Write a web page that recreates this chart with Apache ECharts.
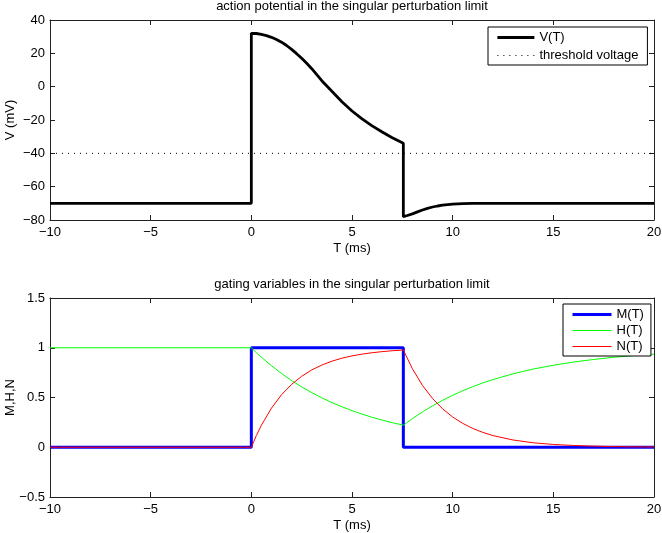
<!DOCTYPE html>
<html>
<head>
<meta charset="utf-8">
<script src="https://cdn.jsdelivr.net/npm/echarts@6/dist/echarts.min.js"></script>
<style>
html,body{margin:0;padding:0;background:#fff;}
#chart{width:662px;height:533px;}
</style>
</head>
<body>
<div id="chart"></div>
<script>
// ---- data ----
const topTitle = 'action potential in the singular perturbation limit';
const bottomTitle = 'gating variables in the singular perturbation limit';
const xTicks = [-10, -5, 0, 5, 10, 15, 20];
const vTicks = [-80, -60, -40, -20, 0, 20, 40];
const gTicks = [-0.5, 0, 0.5, 1, 1.5];

const tV = [-10, 0, 0, 0.25, 0.5, 0.75, 1, 1.25, 1.5, 1.75, 2, 2.25, 2.5, 2.75, 3, 3.5, 4, 4.5, 5, 5.5, 6, 6.5, 7, 7.55, 7.55, 7.75, 8, 8.25, 8.5, 8.75, 9, 9.25, 9.5, 9.75, 10, 10.5, 11, 12, 20];
const vV = [-70, -70, 32, 31.9, 31.4, 30.6, 29.6, 28.3, 26.7, 24.7, 22.4, 19.8, 17.0, 14.0, 10.8, 3.6, -2.8, -9, -14.6, -19.3, -23.5, -27.2, -30.6, -34, -78, -77.3, -76.3, -75.1, -74, -73, -72.2, -71.6, -71.1, -70.8, -70.5, -70.2, -70.05, -70, -70];
const threshT = [-10, 20];
const threshV = [-40, -40];

const tGate = [-10, 0, 0, 0.25, 0.5, 1, 1.5, 2, 2.5, 3, 3.5, 4, 4.5, 5, 5.5, 6, 6.5, 7, 7.55, 7.55, 8, 8.5, 9, 9.5, 10, 10.5, 11, 11.5, 12, 13, 14, 15, 16, 17, 18, 19, 20];
const mVals = [0, 0, 1, 1, 1, 1, 1, 1, 1, 1, 1, 1, 1, 1, 1, 1, 1, 1, 1, 0, 0, 0, 0, 0, 0, 0, 0, 0, 0, 0, 0, 0, 0, 0, 0, 0, 0];
const hVals = [1, 1, 1, 0.95, 0.905, 0.819, 0.741, 0.67, 0.607, 0.549, 0.497, 0.449, 0.407, 0.368, 0.333, 0.301, 0.273, 0.247, 0.222, 0.222, 0.287, 0.355, 0.416, 0.472, 0.522, 0.568, 0.609, 0.647, 0.68, 0.738, 0.786, 0.824, 0.856, 0.882, 0.904, 0.921, 0.935];
const nVals = [0, 0, 0, 0.118, 0.221, 0.393, 0.528, 0.632, 0.713, 0.777, 0.826, 0.865, 0.895, 0.918, 0.936, 0.95, 0.961, 0.97, 0.977, 0.977, 0.789, 0.622, 0.49, 0.386, 0.304, 0.24, 0.189, 0.149, 0.117, 0.073, 0.045, 0.028, 0.018, 0.011, 0.007, 0.004, 0.003];

// ---- chart ----
const FONT = 'Liberation Sans, Arial, Helvetica, sans-serif';
const AX = '#222';
const zip = (a, b) => a.map((v, i) => [v, b[i]]);
const fmt = v => String(v).replace('-', '\u2212');

function xAx(grid, pos, showLabel, name, title) {
  const o = {
    type: 'value', gridIndex: grid, position: pos,
    min: xTicks[0], max: xTicks[xTicks.length - 1], interval: xTicks[1] - xTicks[0],
    axisLine: {show: true, onZero: false, lineStyle: {color: AX, width: 1}},
    axisTick: {show: true, inside: true, length: 5, lineStyle: {color: AX}},
    axisLabel: {show: showLabel, formatter: fmt, margin: 6, color: '#000', fontSize: 13, fontFamily: FONT},
    splitLine: {show: false}
  };
  if (name) {
    o.name = name; o.nameLocation = 'middle'; o.nameGap = 22;
    o.nameTextStyle = {color: '#000', fontSize: 13, fontFamily: FONT};
    o.nameMoveOverlap = false;
  }
  if (title) {
    o.name = title; o.nameLocation = 'middle'; o.nameGap = 7;
    o.nameTextStyle = {color: '#000', fontSize: 13, fontFamily: FONT};
    o.nameMoveOverlap = false;
  }
  return o;
}
function yAx(grid, pos, ticks, showLabel, name) {
  const o = {
    type: 'value', gridIndex: grid, position: pos,
    min: ticks[0], max: ticks[ticks.length - 1], interval: ticks[1] - ticks[0],
    axisLine: {show: true, onZero: false, lineStyle: {color: AX, width: 1}},
    axisTick: {show: true, inside: true, length: 5, lineStyle: {color: AX}},
    axisLabel: {show: showLabel, formatter: fmt, margin: 5, color: '#000', fontSize: 13, fontFamily: FONT},
    splitLine: {show: false}
  };
  if (name) {
    o.name = name; o.nameLocation = 'middle'; o.nameGap = 33; o.nameRotate = 90;
    o.nameTextStyle = {color: '#000', fontSize: 13, fontFamily: FONT};
    o.nameMoveOverlap = false;
  }
  return o;
}

const chart = echarts.init(document.getElementById('chart'), null, {renderer: 'canvas'});
const legendCommon = {
  orient: 'vertical', borderColor: '#000', borderWidth: 1, backgroundColor: '#fff', borderRadius: 0,
  textStyle: {color: '#000', fontSize: 13, fontFamily: FONT},
  lineStyle: {width: 'inherit', type: 'inherit'},
  itemStyle: {opacity: 0}, selectedMode: false
};
chart.setOption({
  animation: false,
  textStyle: {fontFamily: FONT},
  grid: [
    {left: 50, top: 20, width: 604, height: 200, containLabel: false, outerBoundsMode: 'none'},
    {left: 50, top: 298, width: 604, height: 199, containLabel: false, outerBoundsMode: 'none'}
  ],
  xAxis: [
    xAx(0, 'bottom', true, 'T (ms)', null),
    xAx(1, 'bottom', true, 'T (ms)', null),
    xAx(0, 'top', false, null, topTitle),
    xAx(1, 'top', false, null, bottomTitle)
  ],
  yAxis: [
    yAx(0, 'left', vTicks, true, 'V (mV)'),
    yAx(1, 'left', gTicks, true, 'M,H,N'),
    yAx(0, 'right', vTicks, false, null),
    yAx(1, 'right', gTicks, false, null)
  ],
  legend: [
    Object.assign({}, legendCommon, {
      data: ['V(T)', 'threshold voltage'], left: 488, top: 27,
      itemWidth: 37, itemHeight: 13, itemGap: 5, padding: [4, 9, 3, 8]
    }),
    Object.assign({}, legendCommon, {
      data: ['M(T)', 'H(T)', 'N(T)'], left: 563, top: 304,
      itemWidth: 39, itemHeight: 14, itemGap: 3, padding: [4, 7, 3, 8]
    })
  ],
  series: [
    {name: 'V(T)', type: 'line', xAxisIndex: 0, yAxisIndex: 0, data: zip(tV, vV), symbol: 'none',
     lineStyle: {color: '#000', width: 2.8}, itemStyle: {color: '#000'}},
    {name: 'threshold voltage', type: 'line', xAxisIndex: 0, yAxisIndex: 0, data: zip(threshT, threshV), symbol: 'none',
     lineStyle: {color: '#000', width: 1, type: [1, 5]}, itemStyle: {color: '#000'}},
    {name: 'M(T)', type: 'line', xAxisIndex: 1, yAxisIndex: 1, data: zip(tGate, mVals), symbol: 'none',
     lineStyle: {color: '#0000ff', width: 3}, itemStyle: {color: '#0000ff'}},
    {name: 'H(T)', type: 'line', xAxisIndex: 1, yAxisIndex: 1, data: zip(tGate, hVals), symbol: 'none',
     lineStyle: {color: '#00ff00', width: 1}, itemStyle: {color: '#00ff00'}},
    {name: 'N(T)', type: 'line', xAxisIndex: 1, yAxisIndex: 1, data: zip(tGate, nVals), symbol: 'none',
     lineStyle: {color: '#ff0000', width: 1}, itemStyle: {color: '#ff0000'}}
  ]
});
</script>
</body>
</html>
